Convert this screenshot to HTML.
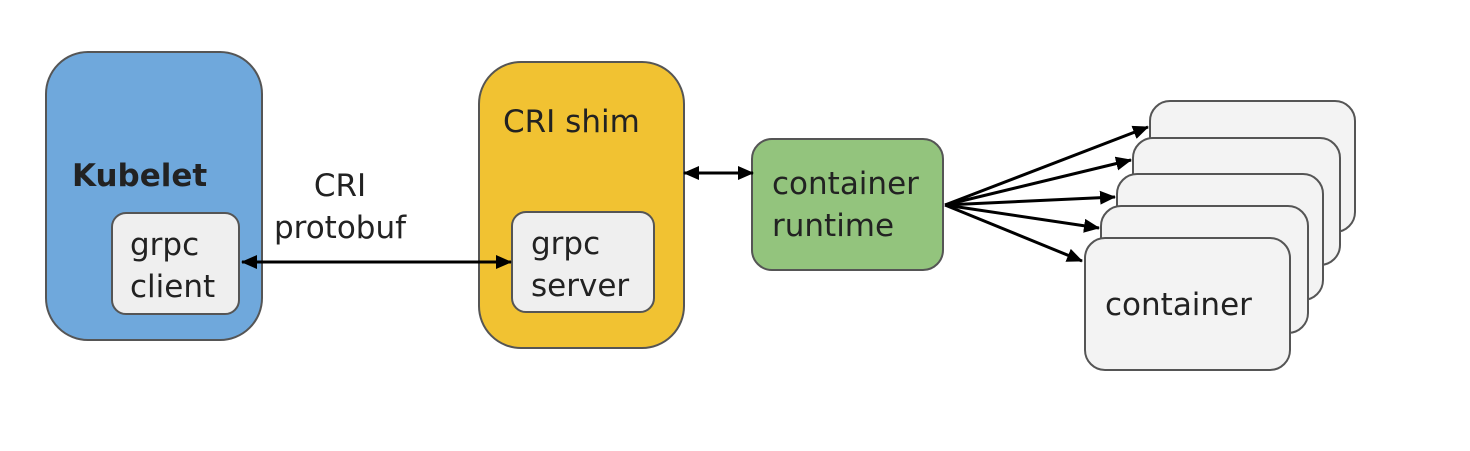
<!DOCTYPE html>
<html><head><style>
body{margin:0;background:#fff;width:1470px;height:446px;overflow:hidden}
text{font-family:"DejaVu Sans","Liberation Sans",sans-serif;fill:#222}
</style></head><body>
<svg width="1470" height="446" viewBox="0 0 1470 446">
<defs>
<marker id="a" markerWidth="16" markerHeight="14" refX="15" refY="7" orient="auto-start-reverse" markerUnits="userSpaceOnUse"><path d="M0,0 L16,7 L0,14 z" fill="#000"/></marker>
</defs>
<g stroke="#555" stroke-width="2">
<rect x="46" y="52" width="216" height="288" rx="42" fill="#6fa8dc"/>
<rect x="112" y="213" width="127" height="101" rx="14" fill="#efefef"/>
<rect x="479" y="62" width="205" height="286" rx="42" fill="#f1c232"/>
<rect x="512" y="212" width="142" height="100" rx="14" fill="#efefef"/>
<rect x="752" y="139" width="191" height="131" rx="20" fill="#93c47d"/>
<rect x="1150" y="101" width="205" height="131" rx="20" fill="#f3f3f3"/>
<rect x="1133" y="138" width="207" height="127" rx="20" fill="#f3f3f3"/>
<rect x="1117" y="174" width="206" height="126" rx="20" fill="#f3f3f3"/>
<rect x="1101" y="206" width="207" height="127" rx="20" fill="#f3f3f3"/>
<rect x="1085" y="238" width="205" height="132" rx="20" fill="#f3f3f3"/>
</g>
<g stroke="#000" stroke-width="3" fill="none">
<line x1="242" y1="262" x2="511" y2="262" marker-start="url(#a)" marker-end="url(#a)"/>
<line x1="684" y1="173" x2="753" y2="173" marker-start="url(#a)" marker-end="url(#a)"/>
<line x1="945" y1="205" x2="1148" y2="127" marker-end="url(#a)"/>
<line x1="945" y1="205" x2="1131" y2="160" marker-end="url(#a)"/>
<line x1="945" y1="205" x2="1115" y2="197" marker-end="url(#a)"/>
<line x1="945" y1="205" x2="1099" y2="228" marker-end="url(#a)"/>
<line x1="945" y1="205" x2="1082" y2="261" marker-end="url(#a)"/>
</g>
<text x="72" y="186" font-size="31" font-weight="bold" fill="#111">Kubelet</text>
<text x="130" y="255" font-size="31">grpc</text>
<text x="130" y="297" font-size="31">client</text>
<text x="340" y="196" font-size="31" text-anchor="middle">CRI</text>
<text x="340" y="238" font-size="31" text-anchor="middle">protobuf</text>
<text x="503" y="132" font-size="31">CRI shim</text>
<text x="531" y="254" font-size="31">grpc</text>
<text x="531" y="296" font-size="31">server</text>
<text x="772" y="194" font-size="31">container</text>
<text x="772" y="236" font-size="31">runtime</text>
<text x="1105" y="315" font-size="31">container</text>
</svg>
</body></html>
